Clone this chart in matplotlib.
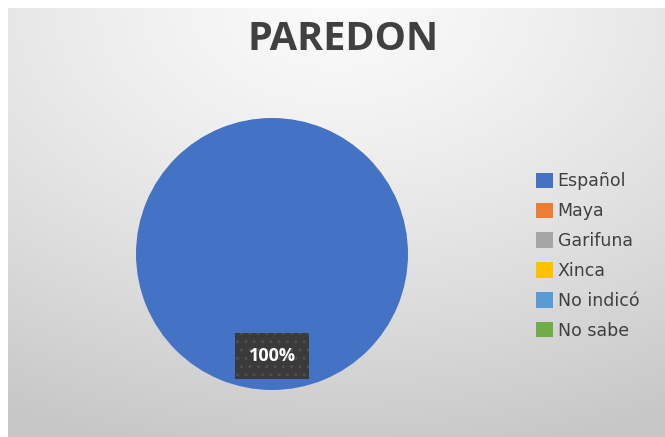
import matplotlib
matplotlib.use("Agg")
import matplotlib.pyplot as plt
import numpy as np
from matplotlib.patches import Patch

title = "PAREDON"
categories = ["Español", "Maya", "Garifuna", "Xinca", "No indicó", "No sabe"]
values = [100, 0, 0, 0, 0, 0]
colors = ["#4472C4", "#ED7D31", "#A5A5A5", "#FFC000", "#5B9BD5", "#70AD47"]

W, H = 665, 437
fig = plt.figure(figsize=(W / 100, H / 100), dpi=100)
fig.patch.set_facecolor("white")

# background gradient panel
bg = fig.add_axes([8 / W, 0, (W - 8) / W, (H - 8) / H])
bg.set_axis_off()
ny, nx = 200, 300
yy, xx = np.mgrid[0:ny, 0:nx]
cx, cy = nx * 0.5, 0
d = np.sqrt(((xx - cx) / nx) ** 2 + ((yy - cy) / ny) ** 2)
d = d / d.max()
v = 0.98 - 0.2 * np.clip(d * 1.05, 0, 1) ** 1.3
img = np.dstack([v, v, v])
bg.imshow(img, aspect="auto", extent=[0, 1, 0, 1], origin="upper")
bg.set_xlim(0, 1)
bg.set_ylim(0, 1)

# pie
r_px = 136
cxp, cyp = 272, 254
ax = fig.add_axes([(cxp - r_px) / W, (H - cyp - r_px) / H, 2 * r_px / W, 2 * r_px / H])
ax.set_axis_off()
ax.pie(values, colors=colors, startangle=90, counterclock=False, radius=1,
       wedgeprops=dict(linewidth=0))
ax.set_xlim(-1, 1)
ax.set_ylim(-1, 1)
ax.text(0, -0.75, f"{values[0]}%", ha="center", va="center", color="white",
        fontsize=13, fontweight="bold", family="Open Sans",
        bbox=dict(boxstyle="square,pad=0.75", facecolor="#3a3a3a", edgecolor="#4e4e4e",
                  hatch="..", linewidth=0))

fig.text(343 / W, 1 - 39 / H, title, ha="center", va="center", fontsize=28.5,
         fontweight="bold", color="#404040", family="Open Sans")

handles = [Patch(facecolor=c, edgecolor="none") for c in colors]
leg = fig.legend(handles, categories, loc="center left", bbox_to_anchor=(536 / W, 1 - 256 / H),
                 frameon=False, fontsize=12.5, handlelength=1.0, handleheight=1.0,
                 handletextpad=0.25, labelspacing=0.68, borderaxespad=0, borderpad=0)
for t in leg.get_texts():
    t.set_color("#404040")
    t.set_family("DejaVu Sans")

fig.savefig("out.png", dpi=100)
